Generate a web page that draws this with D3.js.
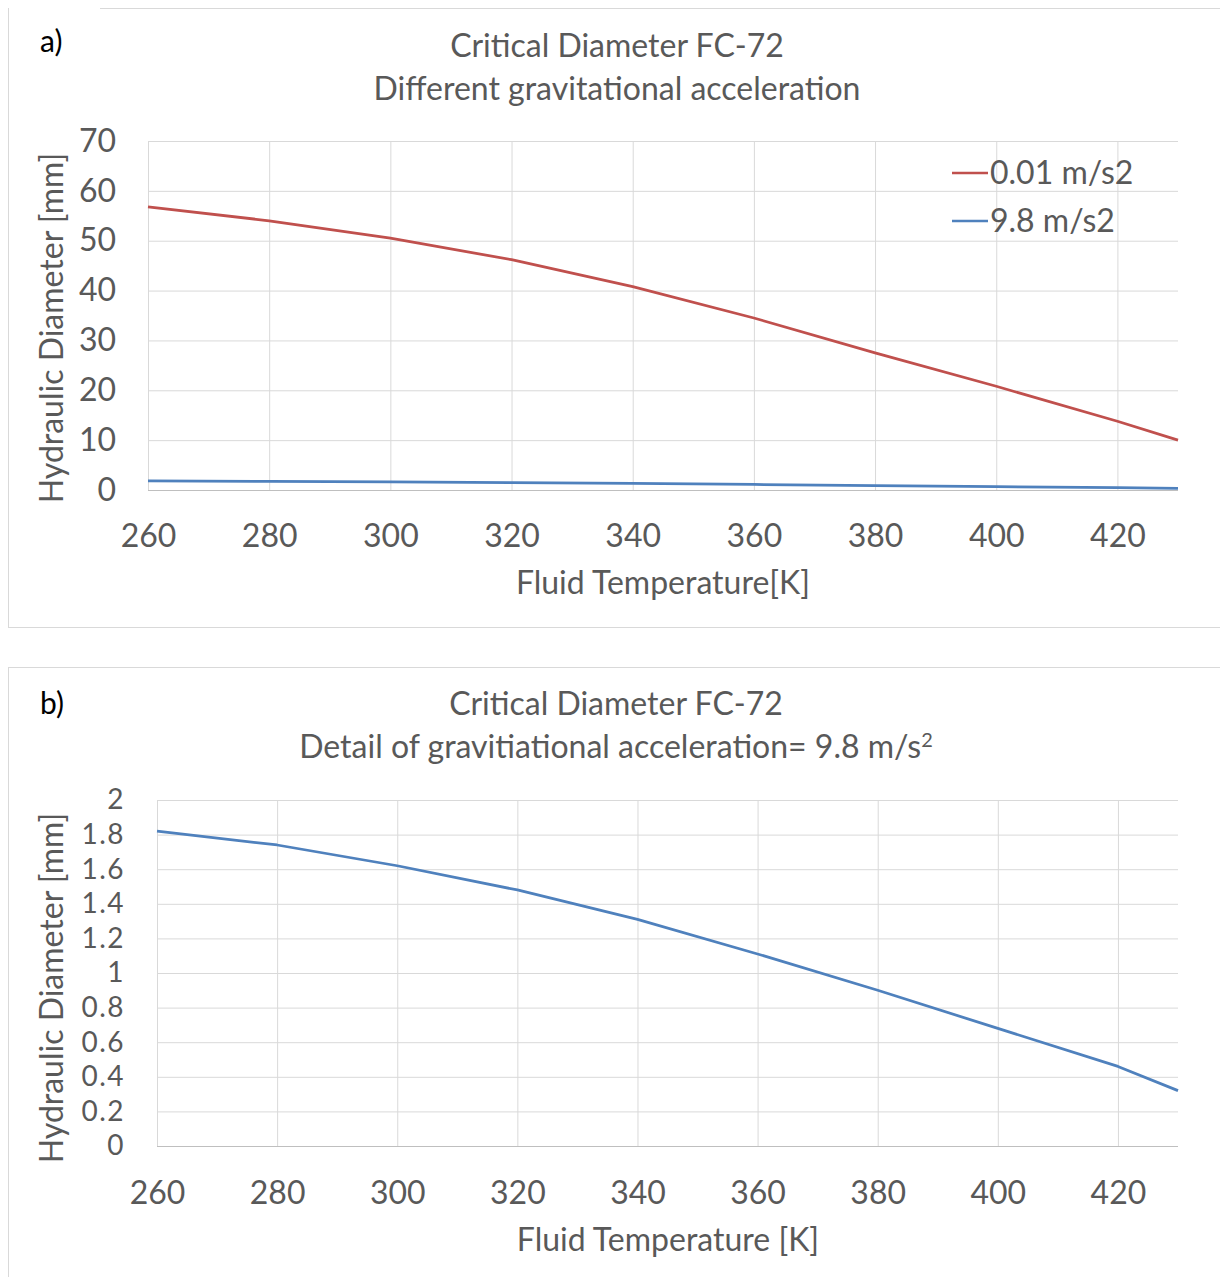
<!DOCTYPE html>
<html>
<head>
<meta charset="utf-8">
<script src="https://cdn.jsdelivr.net/npm/d3@7"></script>
<style>
  html, body { margin: 0; padding: 0; background: #fff; }
  svg { display: block; font-family: Lato, "Open Sans", sans-serif; }
</style>
</head>
<body>
<svg id="chart" width="1220" height="1277"></svg>
<script>
// ---- data ----
const temperatures = [260, 280, 300, 320, 340, 360, 380, 400, 420, 430];
const diamLowG = [56.8, 54.0, 50.5, 46.2, 40.8, 34.5, 27.5, 20.8, 13.8, 10.0];   // 0.01 m/s2
const diamEarthG = [1.82, 1.74, 1.62, 1.48, 1.31, 1.11, 0.90, 0.68, 0.46, 0.32]; // 9.8 m/s2
const seriesNames = ["0.01 m/s2", "9.8 m/s2"];
const xTicks = [260, 280, 300, 320, 340, 360, 380, 400, 420];
const yTicksA = [0, 10, 20, 30, 40, 50, 60, 70];
const yTicksB = [0, 0.2, 0.4, 0.6, 0.8, 1, 1.2, 1.4, 1.6, 1.8, 2];
const titleA = ["Critical Diameter FC-72", "Different gravitational acceleration"];
const titleB = ["Critical Diameter FC-72", "Detail of gravitiational acceleration= 9.8 m/s"];

const RED = "#c0504d", BLUE = "#4f81bd";
const TXT = "#595959", GRID = "#d9d9d9";
const FS = 32;

const svg = d3.select("#chart");

function panel(cfg) {
  const g = svg.append("g");
  // panel border
  g.append("path")
    .attr("d", `M${cfg.bx0},${cfg.by0 + 0.5}H1220 M8.5,${cfg.by0}V${cfg.by1} M8.5,${cfg.by1 - 0.5}H1220`)
    .attr("fill", "none").attr("stroke", GRID).attr("stroke-width", 1);

  const x = d3.scaleLinear().domain([260, 430]).range([cfg.left, cfg.right]);
  const y = d3.scaleLinear().domain(cfg.yDomain).range([cfg.bottom, cfg.top]);

  // horizontal gridlines
  g.append("g").attr("transform", `translate(${cfg.left},0)`)
    .call(d3.axisLeft(y).tickValues(cfg.yTicks).tickSize(-(cfg.right - cfg.left)).tickFormat(""))
    .call(s => s.select(".domain").remove())
    .call(s => s.selectAll("line").attr("stroke", GRID));
  // vertical gridlines
  g.append("g").attr("transform", `translate(0,${cfg.top})`)
    .call(d3.axisTop(x).tickValues(xTicks).tickSize(-(cfg.bottom - cfg.top)).tickFormat(""))
    .call(s => s.select(".domain").remove())
    .call(s => s.selectAll("line").attr("stroke", GRID));
  // x axis line + labels
  g.append("g").attr("transform", `translate(0,${cfg.bottom})`)
    .call(d3.axisBottom(x).tickValues(xTicks).tickSize(0).tickPadding(cfg.xPad).tickFormat(d3.format("d")))
    .call(s => s.select(".domain").attr("stroke", "#bfbfbf").attr("d", `M${cfg.left},0.5H${cfg.right}`))
    .call(s => s.selectAll("text").attr("fill", TXT).attr("font-size", FS).attr("font-family", "Lato, sans-serif"));
  // y labels
  g.append("g").attr("transform", `translate(${cfg.left},0)`)
    .call(d3.axisLeft(y).tickValues(cfg.yTicks).tickSize(0).tickPadding(cfg.yPad).tickFormat(d => d3.format("")(+d.toFixed(1))))
    .call(s => s.select(".domain").remove())
    .call(s => s.selectAll("text").attr("fill", TXT).attr("font-size", cfg.yFS)
      .attr("letter-spacing", cfg.yLS).attr("font-family", "Lato, sans-serif"));

  const line = d3.line().x((d, i) => x(temperatures[i])).y(d => y(d));
  cfg.series.forEach(s => {
    g.append("path").datum(s.values)
      .attr("d", line).attr("fill", "none")
      .attr("stroke", s.color).attr("stroke-width", 2.75).attr("stroke-linejoin", "round");
  });

  // titles
  const t = g.append("text").attr("text-anchor", "middle").attr("fill", TXT).attr("font-size", FS);
  t.append("tspan").attr("x", cfg.titleX).attr("y", cfg.titleY).text(cfg.title[0]);
  t.append("tspan").attr("x", cfg.titleX).attr("y", cfg.titleY + 43).text(cfg.title[1]);
  if (cfg.sup) t.append("tspan").attr("dy", -11).attr("font-size", 20).text("2");

  // axis titles
  g.append("text").attr("text-anchor", "middle").attr("fill", TXT).attr("font-size", FS)
    .attr("transform", `translate(${cfg.yTitleX},${cfg.yTitleY}) rotate(-90)`)
    .attr("dy", "0.35em").text("Hydraulic Diameter [mm]");
  g.append("text").attr("text-anchor", "middle").attr("fill", TXT).attr("font-size", FS)
    .attr("x", cfg.xTitleX).attr("y", cfg.xTitleY).attr("dy", "0.35em").text(cfg.xTitle);

  // panel letter
  g.append("text").attr("x", 40).attr("y", cfg.letterY).attr("dy", "0.35em")
    .attr("fill", "#000").attr("font-size", 30).text(cfg.letter);

  // legend
  if (cfg.legend) {
    cfg.series.forEach((s, i) => {
      const ly = 173 + i * 48;
      g.append("line").attr("x1", 952).attr("x2", 988).attr("y1", ly).attr("y2", ly)
        .attr("stroke", s.color).attr("stroke-width", 2.5);
      g.append("text").attr("x", 990).attr("y", ly).attr("dy", "0.35em")
        .attr("fill", TXT).attr("font-size", FS).text(s.name);
    });
  }
}

panel({
  bx0: 100, by0: 8, by1: 628,
  left: 148, right: 1178, top: 141, bottom: 490,
  yDomain: [0, 70], yTicks: yTicksA, xPad: 34, yPad: 32, yFS: FS, yLS: 0,
  series: [{ name: seriesNames[0], values: diamLowG, color: RED },
           { name: seriesNames[1], values: diamEarthG, color: BLUE }],
  title: titleA, titleX: 617, titleY: 56.5,
  yTitleX: 52, yTitleY: 328, xTitleX: 663, xTitleY: 583, xTitle: "Fluid Temperature[K]",
  letter: "a)", letterY: 41, legend: true
});

panel({
  bx0: 8.5, by0: 667, by1: 1290,
  left: 157, right: 1178, top: 800, bottom: 1146,
  yDomain: [0, 2], yTicks: yTicksB, xPad: 35, yPad: 32, yFS: 28, yLS: 1.5,
  series: [{ name: seriesNames[1], values: diamEarthG, color: BLUE }],
  title: titleB, titleX: 616, titleY: 714.5, sup: true,
  yTitleX: 52, yTitleY: 988, xTitleX: 668, xTitleY: 1240, xTitle: "Fluid Temperature [K]",
  letter: "b)", letterY: 703, legend: false
});
</script>
</body>
</html>
